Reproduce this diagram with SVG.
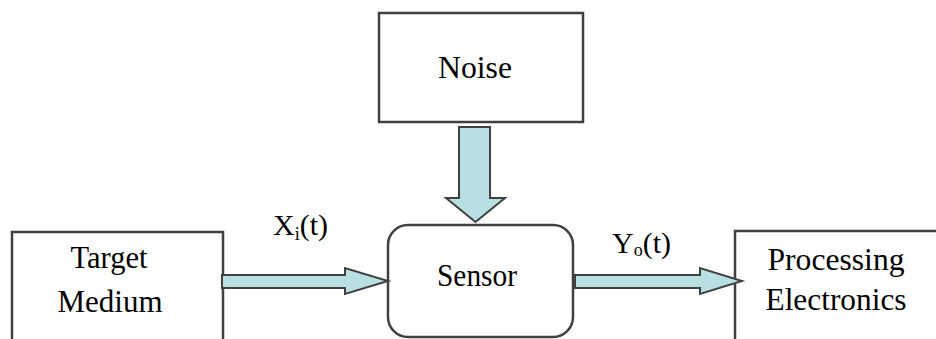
<svg xmlns="http://www.w3.org/2000/svg" width="936" height="339" viewBox="0 0 936 339">
  <style>
    .box { fill: #ffffff; stroke: #404040; stroke-width: 2.5; }
    .arrow { fill: #b8dfe2; stroke: #404040; stroke-width: 2; stroke-linejoin: miter; }
    .label { font-family: 'Liberation Serif', 'DejaVu Serif', serif; font-size: 32px; fill: #000000; text-anchor: middle; }
    .sig { font-family: 'Liberation Serif', 'DejaVu Serif', serif; font-size: 30px; fill: #000000; }
    .sub { font-size: 18px; }
  </style>
  <rect width="936" height="339" fill="#ffffff"/>

  <g id="noise">
    <rect class="box" x="379" y="13" width="204" height="109"/>
    <text class="label" x="475" y="78" textLength="74" lengthAdjust="spacingAndGlyphs">Noise</text>
  </g>

  <g id="target-medium">
    <rect class="box" x="12" y="232" width="211" height="130"/>
    <text class="label" x="109" y="268" textLength="77" lengthAdjust="spacingAndGlyphs">Target</text>
    <text class="label" x="110" y="312" textLength="105" lengthAdjust="spacingAndGlyphs">Medium</text>
  </g>

  <g id="sensor">
    <rect class="box" x="388" y="225" width="185" height="112" rx="20" ry="20"/>
    <text class="label" x="477" y="286" textLength="80" lengthAdjust="spacingAndGlyphs">Sensor</text>
  </g>

  <g id="processing-electronics">
    <rect class="box" x="735" y="231" width="220" height="130"/>
    <text class="label" x="836" y="270" textLength="137" lengthAdjust="spacingAndGlyphs">Processing</text>
    <text class="label" x="836" y="310" textLength="141" lengthAdjust="spacingAndGlyphs">Electronics</text>
  </g>

  <g id="connectors">
    <!-- noise into sensor -->
    <polygon class="arrow" points="459,127 490,127 490,198 505,198 475.5,222 446,198 459,198"/>
    <!-- target medium to sensor -->
    <polygon class="arrow" points="222,275 345,275 345,268 388,281 345,294 345,288 222,288"/>
    <!-- sensor to processing electronics -->
    <polygon class="arrow" points="575,275 700,275 700,268 742,281 700,294 700,288 575,288"/>
    <text class="sig" x="273" y="235">X<tspan class="sub" dy="5">i</tspan><tspan dy="-5">(t)</tspan></text>
    <text class="sig" x="612" y="253">Y<tspan class="sub" dy="3">o</tspan><tspan dy="-3">(t)</tspan></text>
  </g>
</svg>
